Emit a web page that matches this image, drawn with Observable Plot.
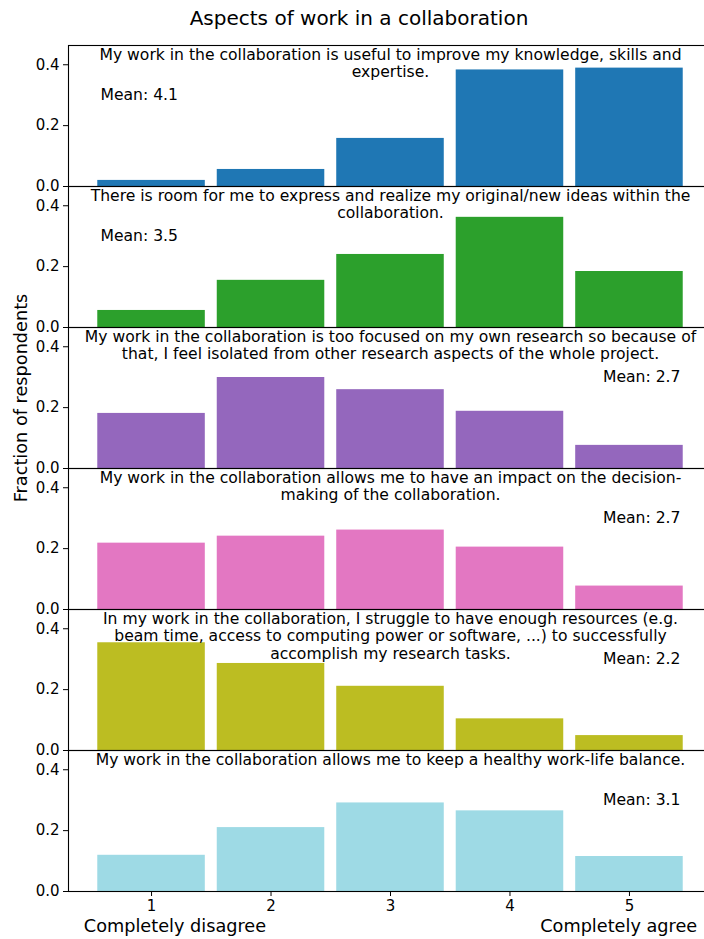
<!DOCTYPE html>
<html>
<head>
<meta charset="utf-8">
<script src="https://cdn.jsdelivr.net/npm/d3@7"></script>
<script src="https://cdn.jsdelivr.net/npm/@observablehq/plot@0.6"></script>
<style>
  html, body { margin: 0; padding: 0; background: #fff; overflow: hidden; }
  #title {
    width: 704px; height: 36px; line-height: 36px; box-sizing: border-box;
    padding-left: 14px; text-align: center;
    font-family: "DejaVu Sans", sans-serif; font-size: 20px; color: #000;
  }
  #chart svg { display: block; }
</style>
</head>
<body>
<div id="title"></div>
<div id="chart"></div>
<script>
const chartTitle = "Aspects of work in a collaboration";
const questions = [
  "My work in the collaboration is useful to improve my knowledge, skills and\nexpertise.",
  "There is room for me to express and realize my original/new ideas within the\ncollaboration.",
  "My work in the collaboration is too focused on my own research so because of\nthat, I feel isolated from other research aspects of the whole project.",
  "My work in the collaboration allows me to have an impact on the decision-\nmaking of the collaboration.",
  "In my work in the collaboration, I struggle to have enough resources (e.g.\nbeam time, access to computing power or software, ...) to successfully\naccomplish my research tasks.",
  "My work in the collaboration allows me to keep a healthy work-life balance."
];
const responses = [1, 2, 3, 4, 5];
const fractions = [
  [0.020, 0.056, 0.158, 0.383, 0.389],
  [0.056, 0.155, 0.240, 0.362, 0.184],
  [0.181, 0.299, 0.259, 0.188, 0.076],
  [0.218, 0.241, 0.261, 0.205, 0.077],
  [0.354, 0.286, 0.211, 0.104, 0.049],
  [0.119, 0.210, 0.291, 0.265, 0.115]
];
const means = [4.1, 3.5, 2.7, 2.7, 2.2, 3.1];
const colors = ["#1f77b4", "#2ca02c", "#9467bd", "#e377c2", "#bcbd22", "#9edae5"];
const yLabel = "Fraction of respondents";
const xLabelLeft = "Completely disagree";
const xLabelRight = "Completely agree";

document.getElementById("title").textContent = chartTitle;

const qIdx = d3.range(questions.length);
const last = questions.length - 1;
const bars = questions.flatMap((q, i) => responses.map((r, j) => ({q: i, r, v: fractions[i][j]})));
const titleRows = questions.map((q, i) => ({q: i, text: q}));
const meanRows = questions.map((q, i) => ({
  q: i, text: `Mean: ${means[i].toFixed(1)}`, left: fractions[i][0] <= fractions[i][4]
}));

const plot = Plot.plot({
  width: 704,
  height: 903,
  marginTop: 7.3,
  marginBottom: 46,
  marginLeft: 68,
  marginRight: -8,
  style: {fontFamily: "DejaVu Sans", fontSize: "15px", color: "#000", background: "#fff", overflow: "hidden"},
  x: {domain: [0.305, 5.695]},
  y: {domain: [0, 0.4633]},
  fy: {domain: qIdx, padding: 0, axis: null},
  color: {domain: qIdx, range: colors},
  marks: [
    Plot.rectY(bars, {x1: d => d.r - 0.45, x2: d => d.r + 0.45, y: "v", fy: "q", fill: "q"}),
    Plot.frame({stroke: "#000", strokeWidth: 1.1}),
    Plot.axisY({ticks: [0, 0.2, 0.4], tickFormat: ".1f", tickSize: 5, tickPadding: 4, fontSize: 15, label: null, stroke: "#000", fill: "#000"}),
    Plot.axisX({ticks: responses, tickFormat: "d", tickSize: 5, tickPadding: 4, fontSize: 15, label: null, stroke: "#000", fill: "#000"}),
    Plot.text(titleRows, {
      fy: "q", x: () => 3, text: "text", frameAnchor: "top", lineAnchor: "top",
      dy: 2.5, fontSize: 15.6, lineHeight: 1.1, fill: "#000"
    }),
    Plot.text(meanRows.filter(d => d.left), {
      fy: "q", text: "text", frameAnchor: "top-left", textAnchor: "start",
      lineAnchor: "middle", dx: 32, dy: 49, fontSize: 15.6, fill: "#000"
    }),
    Plot.text(meanRows.filter(d => !d.left), {
      fy: "q", text: "text", frameAnchor: "top-right", textAnchor: "end",
      lineAnchor: "middle", dx: -32, dy: 49, fontSize: 15.6, fill: "#000"
    }),
    Plot.text([{q: 2}], {
      fy: "q", text: () => yLabel, frameAnchor: "left", textAnchor: "middle", rotate: -90,
      dx: -47, fontSize: 17.7, fill: "#000"
    }),
    Plot.text([{q: last}], {
      fy: "q", text: () => xLabelLeft, frameAnchor: "bottom-left", textAnchor: "start",
      lineAnchor: "middle", dx: 15.3, dy: 35, fontSize: 17.7, fill: "#000"
    }),
    Plot.text([{q: last}], {
      fy: "q", text: () => xLabelRight, frameAnchor: "bottom-right", textAnchor: "end",
      lineAnchor: "middle", dx: -15.3, dy: 35, fontSize: 17.7, fill: "#000"
    })
  ]
});
document.getElementById("chart").appendChild(plot);
</script>
</body>
</html>
